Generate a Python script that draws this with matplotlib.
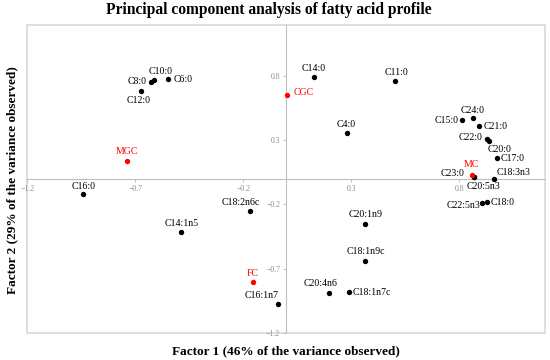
import matplotlib
matplotlib.use("Agg")
import matplotlib.pyplot as plt
from matplotlib.patches import Rectangle

# ---- data ----
labels = ["C4:0", "C6:0", "C8:0", "C10:0", "C12:0", "C14:0", "C11:0", "C16:0",
          "C15:0", "C24:0", "C21:0", "C22:0", "C20:0", "C17:0", "C23:0", "C20:5n3",
          "C18:3n3", "C22:5n3", "C18:0", "C20:1n9", "C18:1n9c", "C20:4n6", "C18:1n7c",
          "C18:2n6c", "C14:1n5", "C16:1n7"]
factor1 = [0.279, -0.548, -0.626, -0.614, -0.673, 0.127, 0.503, -0.940,
           0.813, 0.864, 0.892, 0.929, 0.937, 0.977, 0.867, 0.867,
           0.961, 0.907, 0.931, 0.366, 0.366, 0.199, 0.292,
           -0.170, -0.488, -0.040]
factor2 = [0.357, 0.777, 0.755, 0.774, 0.685, 0.795, 0.763, -0.122,
           0.459, 0.474, 0.415, 0.310, 0.298, 0.165, 0.013, 0.013,
           -0.002, -0.190, -0.179, -0.354, -0.638, -0.890, -0.882,
           -0.247, -0.413, -0.976]

groups = ["CGC", "MGC", "MC", "FC"]
group_f1 = [0.005, -0.738, 0.860, -0.157]
group_f2 = [0.657, 0.138, 0.029, -0.807]

xticks = [-1.2, -0.7, -0.2, 0.3, 0.8]
yticks = [0.8, 0.3, -0.2, -0.7, -1.2]

# label placement (ha, va, dx px, dy px)
place = {
    "C4:0": ("center", "bottom", 0, 4), "C6:0": ("left", "center", 6, 0),
    "C8:0": ("right", "center", -5, 1), "C10:0": ("center", "bottom", 7, 4),
    "C12:0": ("center", "top", -2, -5), "C14:0": ("center", "bottom", 0, 4),
    "C11:0": ("center", "bottom", 1, 4), "C16:0": ("center", "bottom", 0, 3),
    "C15:0": ("right", "center", -3, -1), "C24:0": ("center", "bottom", 0, 3),
    "C21:0": ("left", "center", 5, -1), "C22:0": ("right", "center", -4, 2),
    "C20:0": ("center", "top", 11, -4), "C17:0": ("left", "center", 3, -1),
    "C23:0": ("right", "center", -9, 4), "C20:5n3": ("center", "top", 10, -5),
    "C18:3n3": ("left", "center", 3, 7), "C22:5n3": ("right", "center", -2, -2),
    "C18:0": ("left", "center", 3, -1), "C20:1n9": ("center", "bottom", 0, 5),
    "C18:1n9c": ("center", "bottom", 0, 5), "C20:4n6": ("center", "bottom", -9, 5),
    "C18:1n7c": ("left", "center", 3, -1), "C18:2n6c": ("center", "bottom", -9, 4),
    "C14:1n5": ("center", "bottom", 1, 4), "C16:1n7": ("center", "bottom", -16, 4),
    "CGC": ("left", "center", 6, 2), "MGC": ("center", "bottom", 0, 5),
    "MC": ("center", "bottom", -1, 6), "FC": ("center", "bottom", 0, 4),
}

plt.rcParams['font.family'] = ['Liberation Serif', 'DejaVu Serif']
fig = plt.figure(figsize=(5.5, 3.6), dpi=100)
ax = fig.add_axes([0.0497, 0.0758, 0.9421, 0.8548])
ax.set_xlim(-1.2, 1.2)
ax.set_ylim(-1.2, 1.2)

grey = "#d9d9d9"
for s in ["top", "right"]:
    ax.spines[s].set_visible(False)
ax.spines["left"].set_position(("data", 0))
ax.spines["bottom"].set_position(("data", 0))
for s in ["left", "bottom"]:
    ax.spines[s].set_color("#bfbfbf")
    ax.spines[s].set_linewidth(0.8)
ax.add_patch(Rectangle((0, 0), 1, 1, transform=ax.transAxes, fill=False,
                       edgecolor=grey, linewidth=1.2, clip_on=False))

ax.set_xticks(xticks)
ax.set_yticks(yticks)
ax.set_xticklabels([f"{v:.1f}".replace("-", "\u2212") for v in xticks])
ax.set_yticklabels([f"{v:.1f}".replace("-", "\u2212") for v in yticks])
ax.tick_params(axis="both", labelsize=5.6, labelcolor="#8c8c8c", color="#bfbfbf",
               length=2.5, width=0.7, direction="out", pad=2)

ax.scatter(factor1, factor2, s=15, color="black", zorder=3, linewidths=0)
ax.scatter(group_f1, group_f2, s=15, color="#ff0000", zorder=4, linewidths=0)

for name, x, y in zip(labels, factor1, factor2):
    ha, va, dx, dy = place[name]
    ax.annotate(name, (x, y), xytext=(dx, dy), textcoords="offset pixels",
                ha=ha, va=va, fontsize=7.1, color="black")
for name, x, y in zip(groups, group_f1, group_f2):
    ha, va, dx, dy = place[name]
    ax.annotate(name, (x, y), xytext=(dx, dy), textcoords="offset pixels",
                ha=ha, va=va, fontsize=7.1, color="#ff0000")

fig.text(0.488, 0.972, "Principal component analysis of fatty acid profile",
         ha="center", va="center", fontsize=11.2, fontweight="bold")
fig.text(0.519, 0.023, "Factor 1 (46% of the variance observed)",
         ha="center", va="center", fontsize=9.5, fontweight="bold")
fig.text(0.022, 0.5, "Factor 2 (29% of the variance observed)",
         ha="center", va="center", rotation=90, fontsize=9.5, fontweight="bold")

fig.savefig("out.png", dpi=100)
